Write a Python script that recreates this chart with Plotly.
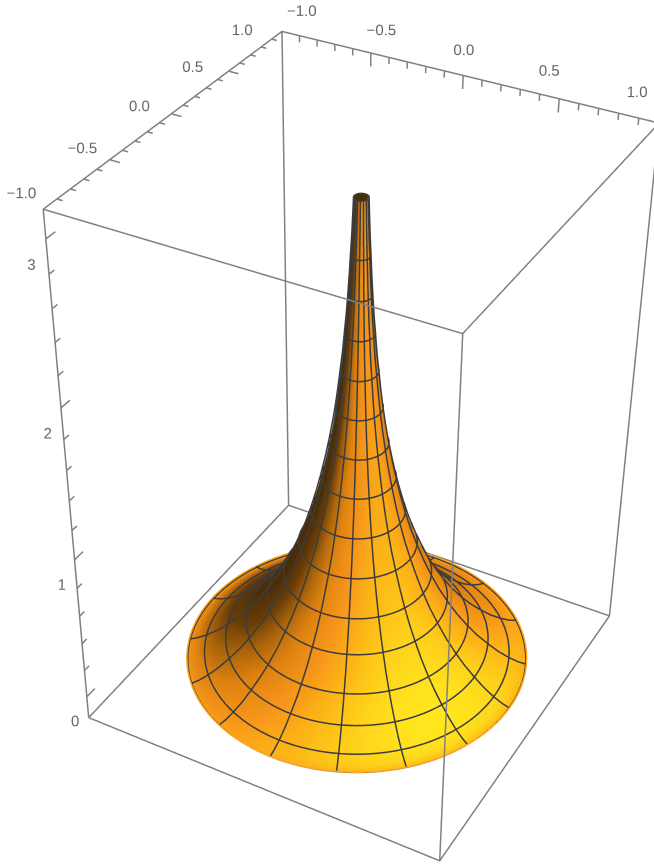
import numpy as np
import plotly.graph_objects as go

# ---- data
profile_r = [.880,.876,.835,.786,.729,.673,.616,.565,.507,.454,.409,.369,.329,.292,.258,.229,.203,.180,.160,.141,.124,.110,.098,.087,.076,.068,.060,.053,.047,.042,.037,.033,.030]
profile_z = [-.050,-.056,-.042,-.015,.027,.080,.140,.204,.289,.382,.470,.561,.667,.775,.886,.999,1.114,1.230,1.342,1.461,1.581,1.695,1.809,1.930,2.050,2.167,2.282,2.403,2.525,2.642,2.758,2.880,2.98]
ring_rows = list(range(1,31,2))
ZMIN, ZMAX = -.16, 3.165
xy_ticks = [-1.0,-.5,0.0,.5,1.0]
z_ticks = [0,1,2,3]

W,H=654,1764
PAD=.4
asp=(1.0,1.014,1.481)
eye=(1.977,-3.682,3.008);center=(-.065,-.032,.009);up=(0,.018,1)
SHIFT_X,SHIFT_Y=2,-450

r=np.array(profile_r);z=np.array(profile_z)
dr=np.gradient(r);dz=np.gradient(z);L=np.hypot(dr,dz);nr=dz/L;nz=-dr/L
nr[0],nz[0]=nr[1],nz[1]
v=np.linspace(0,2*np.pi,129)
V,_=np.meshgrid(v,r)
R=np.outer(r,np.ones_like(v));Zs=np.outer(z,np.ones_like(v))
NR=np.outer(nr,np.ones_like(v));NZ=np.outer(nz,np.ones_like(v))
S=NR*np.cos(V)*.55+NR*np.sin(V)*(-.30)+NZ*.72
fig=go.Figure()
scale=[[0,"#4a2c08"],[.2,"#6b3e07"],[.35,"#a9630b"],[.5,"#dd8210"],[.68,"#f7961a"],[.82,"#fdbb17"],[.96,"#ffe81e"],[1,"#ffe81e"]]
fig.add_trace(go.Surface(x=R*np.cos(V),y=R*np.sin(V),z=Zs,surfacecolor=S,cmin=0,cmax=1,colorscale=scale,showscale=False,
   lighting=dict(ambient=1,diffuse=0,specular=0,roughness=1,fresnel=0),hoverinfo="skip"))
eps=.005
def off(i,vv):
    return (r[i]+eps*nr[i])*np.cos(vv),(r[i]+eps*nr[i])*np.sin(vv),np.full_like(vv,z[i]+eps*nz[i])
def line(x,y,z_,c,w):
    fig.add_trace(go.Scatter3d(x=x,y=y,z=z_,mode="lines",line=dict(color=c,width=w),hoverinfo="skip"))
for i in ring_rows+[len(r)-1]:
    a,b,c=off(i,v);line(a,b,c,"#3c3c3c",3)
for k in range(16):
    vv=k*np.pi/8
    rr=r+eps*nr
    line(rr*np.cos(vv),rr*np.sin(vv),z+eps*nz,"#3c3c3c",3)
a,b,c=off(0,v);line(a,b,c,"#ffa51e",3)

# box and ticks as unbroken paths
boxc="#808080"
cs=[(-1,-1),(1,-1),(1,1),(-1,1),(-1,-1)]
for zz in (ZMIN,ZMAX):
    line([q[0] for q in cs],[q[1] for q in cs],[zz]*5,boxc,3)
for q in cs[:4]:
    line([q[0]]*2,[q[1]]*2,[ZMIN,ZMAX],boxc,3)
px,py,pz=[],[],[]
for i in range(21):
    t=-1+i*.1;m=i%5==0
    px+=[t,t,t];py+=[1,1,1];pz+=[ZMAX,ZMAX-(.08 if m else .04),ZMAX]
line(px,py,pz,boxc,3)
px,py,pz=[],[],[]
for i in range(21):
    t=-1+i*.1;m=i%5==0
    px+=[-1,-1+(.055 if m else .03),-1];py+=[t,t,t];pz+=[ZMAX]*3
line(px,py,pz,boxc,3)
px,py,pz=[],[],[]
for i in range(16):
    t=i*.2;m=i%5==0
    px+=[-1]*3;py+=[-1,-1+(.07 if m else .04),-1];pz+=[t,t,t]
line(px,py,pz,boxc,3)

def lab(t):return f"{t:.1f}".replace("-","\u2212")
font=dict(family="Liberation Sans",size=15,color="#666666")
fig.add_trace(go.Scatter3d(x=[t*.88+.04 for t in xy_ticks],y=[.92]*5,z=[ZMAX+.08]*5,mode="text",text=[lab(t) for t in xy_ticks],textfont=font,hoverinfo="skip"))
fig.add_trace(go.Scatter3d(x=[-1.12]*5,y=[t*.91-.09 for t in xy_ticks],z=[ZMAX-.06]*5,mode="text",text=[lab(t) for t in xy_ticks],textfont=font,hoverinfo="skip"))
fig.add_trace(go.Scatter3d(x=[-.933]*4,y=[-1.21]*4,z=[t-.11 for t in z_ticks],mode="text",text=[str(t) for t in z_ticks],textfont=font,hoverinfo="skip"))

rx=1+PAD
zspan=ZMAX-ZMIN
fig.update_layout(width=W,height=H,margin=dict(l=0,r=0,t=0,b=0),showlegend=False,
 scene=dict(domain=dict(x=[0,1],y=[0,1]),xaxis=dict(visible=False,range=[-rx,rx]),yaxis=dict(visible=False,range=[-rx,rx]),zaxis=dict(visible=False,range=[ZMIN-PAD,ZMAX+PAD]),
  aspectmode="manual",aspectratio=dict(x=asp[0]*rx,y=asp[1]*rx,z=asp[2]*(zspan+2*PAD)/zspan),
  camera=dict(eye=dict(x=eye[0],y=eye[1],z=eye[2]),center=dict(x=center[0],y=center[1],z=center[2]),up=dict(x=up[0],y=up[1],z=up[2]))))
js=f"document.documentElement.style.overflow='hidden';document.body.style.overflow='hidden';document.body.style.margin='0';var g=document.querySelector('.plotly-graph-div');g.style.marginLeft='{SHIFT_X}px';g.style.marginTop='{SHIFT_Y}px';"
fig.write_html("out.html",post_script=js)
